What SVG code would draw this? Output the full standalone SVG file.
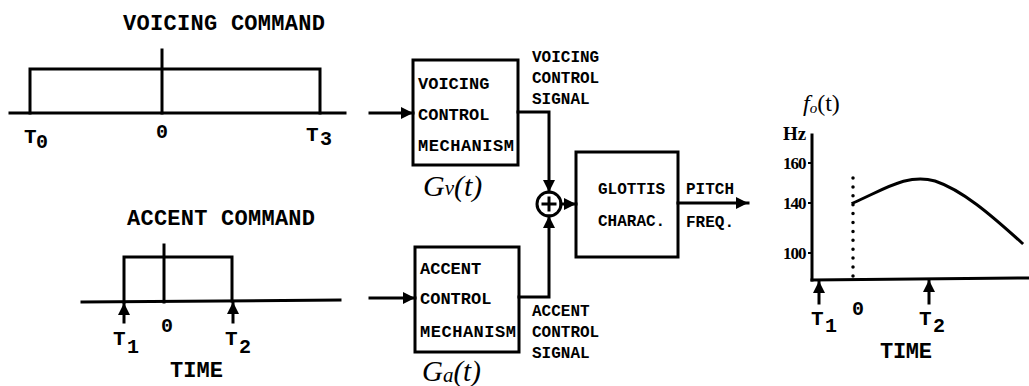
<svg xmlns="http://www.w3.org/2000/svg" width="1029" height="386" viewBox="0 0 1029 386">
<style>
.ln{fill:none;stroke:#000;stroke-width:3;stroke-linecap:square}
.bx{fill:#fff;stroke:#000;stroke-width:3}
.t{font-family:"Liberation Mono",monospace;font-weight:bold;fill:#000}
.big{font-size:22px}
.box{font-size:17px}
.sig{font-size:16px}
.ser{font-family:"Liberation Serif",serif;fill:#000}
.scr{font-family:"Liberation Serif",serif;font-style:italic;fill:#000}
.num{font-family:"Liberation Serif",serif;font-weight:bold;font-size:17px;fill:#000;letter-spacing:-1px}
</style>
<defs>
<marker id="ah" viewBox="0 0 10 10" refX="10" refY="5" markerWidth="4" markerHeight="4" markerUnits="strokeWidth" orient="auto">
<path d="M0,0 L10,5 L0,10 Z" fill="#000"/>
</marker>
</defs>

<g id="voicing-command">
<text class="t big" x="123" y="30" textLength="202">VOICING COMMAND</text>
<line class="ln" x1="10" y1="113" x2="345" y2="113"/>
<polyline class="ln" points="30,113 30,69 320,69 320,113"/>
<line class="ln" x1="162" y1="50" x2="162" y2="113"/>
<text class="t" font-size="21" x="24" y="143">T</text><text class="t" font-size="20" x="36" y="148">0</text>
<text class="t" font-size="20" x="162" y="138" text-anchor="middle">0</text>
<text class="t" font-size="21" x="306" y="141">T</text><text class="t" font-size="20" x="320" y="145">3</text>
</g>

<g id="accent-command">
<text class="t big" x="127" y="225" textLength="188">ACCENT COMMAND</text>
<line class="ln" x1="82" y1="302" x2="340" y2="300"/>
<polyline class="ln" points="124,302 124,257 232,257 232,301"/>
<line class="ln" x1="164" y1="245" x2="164" y2="302"/>
<text class="t" font-size="21" x="113" y="345">T</text><text class="t" font-size="20" x="127" y="353">1</text>
<text class="t" font-size="20" x="167" y="332" text-anchor="middle">0</text>
<text class="t" font-size="21" x="225" y="345">T</text><text class="t" font-size="20" x="239" y="353">2</text>
<text class="t big" x="170" y="377" textLength="53">TIME</text>
</g>

<g id="voicing-box">
<rect class="bx" x="413" y="60" width="105" height="105"/>
<text class="t box" x="418" y="89">VOICING</text>
<text class="t box" x="418" y="120">CONTROL</text>
<text class="t box" x="418" y="151" textLength="96">MECHANISM</text>
<text class="scr" font-size="30" x="423" y="196">G<tspan font-size="21" dy="-1">v</tspan><tspan dy="1">(t)</tspan></text>
</g>

<g id="accent-box">
<rect class="bx" x="415" y="247" width="104" height="105"/>
<text class="t box" x="420" y="274">ACCENT</text>
<text class="t box" x="420" y="304">CONTROL</text>
<text class="t box" x="420" y="337" textLength="96">MECHANISM</text>
<text class="scr" font-size="29" x="422" y="381">G<tspan font-size="21" dy="1">a</tspan><tspan dy="-1">(t)</tspan></text>
</g>

<g id="voicing-signal-label">
<text class="t sig" x="532" y="62">VOICING</text>
<text class="t sig" x="532" y="83">CONTROL</text>
<text class="t sig" x="532" y="104">SIGNAL</text>
</g>

<g id="accent-signal-label">
<text class="t sig" x="532" y="316">ACCENT</text>
<text class="t sig" x="532" y="337">CONTROL</text>
<text class="t sig" x="532" y="358">SIGNAL</text>
</g>

<g id="summing-junction">
<circle cx="549" cy="204" r="12" fill="#fff" stroke="#000" stroke-width="3"/>
<line class="ln" x1="543" y1="204" x2="555" y2="204" stroke-width="2.5"/>
<line class="ln" x1="549" y1="198" x2="549" y2="210" stroke-width="2.5"/>
</g>

<g id="glottis-box">
<rect class="bx" x="576" y="152" width="102" height="105"/>
<text class="t sig" x="598" y="194">GLOTTIS</text>
<text class="t sig" x="598" y="226">CHARAC.</text>
</g>

<g id="pitch-label">
<text class="t sig" x="686" y="194">PITCH</text>
<text class="t sig" x="686" y="227">FREQ.</text>
</g>

<g id="f0-graph">
<text class="scr" font-size="24" x="803" y="111">f<tspan font-size="15" dy="2">o</tspan><tspan dy="-2" font-style="normal">(t)</tspan></text>
<text class="ser" font-weight="bold" font-size="19" x="783" y="140">Hz</text>
<line class="ln" x1="812" y1="135" x2="812" y2="280"/>
<line class="ln" x1="812" y1="280" x2="1028" y2="278"/>
<g stroke="#000" stroke-width="2">
<line x1="808" y1="163" x2="812" y2="163"/>
<line x1="808" y1="203" x2="812" y2="203"/>
<line x1="808" y1="253" x2="812" y2="253"/>
</g>
<text class="num" x="783" y="169">160</text>
<text class="num" x="783" y="209">140</text>
<text class="num" x="783" y="259">100</text>
<line x1="853" y1="178" x2="853" y2="276" stroke="#000" stroke-width="3.5" stroke-linecap="round" stroke-dasharray="0 8.9"/>
<path class="ln" stroke-linecap="round" d="M853,203 C885,189 908,173 935,181 C962,190 990,214 1022,243"/>
<text class="t" font-size="21" x="811" y="325">T</text><text class="t" font-size="20" x="825" y="332">1</text>
<text class="t" font-size="20" x="858" y="315" text-anchor="middle">0</text>
<text class="t" font-size="21" x="919" y="325">T</text><text class="t" font-size="20" x="933" y="332">2</text>
<text class="t big" x="880" y="358" textLength="52">TIME</text>
</g>

<g id="connectors">
<line class="ln" x1="370" y1="113" x2="413" y2="113" marker-end="url(#ah)"/>
<line class="ln" x1="370" y1="298" x2="415" y2="298" marker-end="url(#ah)"/>
<polyline class="ln" points="518,112 549,112 549,192" marker-end="url(#ah)"/>
<polyline class="ln" points="519,297 549,297 549,216" marker-end="url(#ah)"/>
<line class="ln" x1="561" y1="204" x2="576" y2="204" marker-end="url(#ah)"/>
<line class="ln" x1="678" y1="203" x2="748" y2="203" marker-end="url(#ah)"/>
<line class="ln" x1="124" y1="322" x2="124" y2="303" marker-end="url(#ah)"/>
<line class="ln" x1="233" y1="322" x2="233" y2="302" marker-end="url(#ah)"/>
<line class="ln" x1="819" y1="303" x2="819" y2="281" marker-end="url(#ah)"/>
<line class="ln" x1="929" y1="303" x2="929" y2="280" marker-end="url(#ah)"/>
</g>
</svg>
